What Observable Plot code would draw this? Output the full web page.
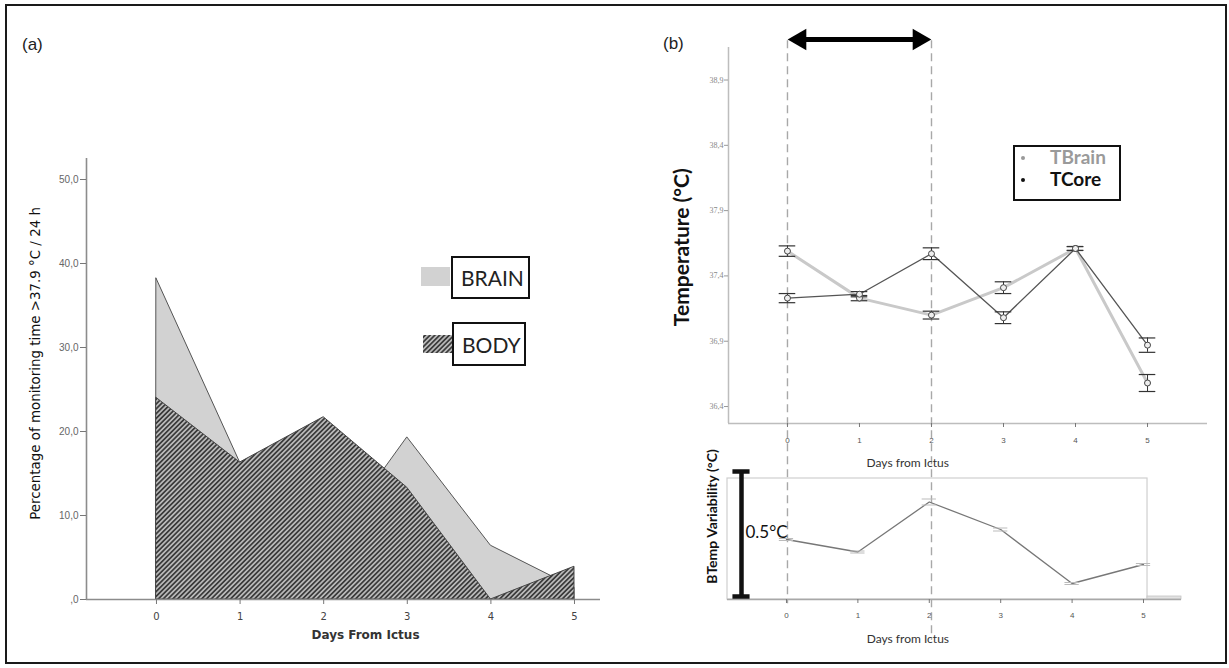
<!DOCTYPE html>
<html><head><meta charset="utf-8">
<script src="https://cdn.jsdelivr.net/npm/d3@7"></script>
<script src="https://cdn.jsdelivr.net/npm/@observablehq/plot@0.6"></script>
<style>
html,body{margin:0;padding:0;background:#fff;}
#fig{position:relative;width:1229px;height:668px;overflow:hidden;background:#fff;}
#fig > svg{position:absolute;left:0;top:0;}
.abs{position:absolute;box-sizing:border-box;}
.border{left:5px;top:4px;width:1222px;height:660px;border:2.5px solid #1a1a1a;}
.plab{font-family:"Liberation Sans",Arial,sans-serif;font-size:17px;color:#222;line-height:20px;}
.lbox{border:2px solid #111;background:#fff;font-family:Lato,sans-serif;color:#222;display:flex;align-items:center;padding-left:8px;}
.lb2{border:2px solid #111;background:#fff;font-family:Lato,sans-serif;font-weight:bold;}
</style></head>
<body>
<svg width="0" height="0" style="position:absolute">
  <defs>
    <pattern id="hatch" patternUnits="userSpaceOnUse" width="3.4" height="3.4" patternTransform="rotate(45)">
      <rect width="3.4" height="3.4" fill="#b8b8b8"></rect>
      <line x1="1.7" y1="0" x2="1.7" y2="3.4" stroke="#333" stroke-width="1.6"></line>
    </pattern>
  </defs>
</svg>
<div id="fig"></div>
<script>
// ---------- Panel (a) data ----------
const days = [0, 1, 2, 3, 4, 5];
const brainPct = [38.2, 16.3, 5.5, 19.3, 6.4, 1.4];
const bodyPct = [24.0, 16.3, 21.7, 13.3, 0.0, 3.9];
const pctTicks = [0, 10, 20, 30, 40, 50];
const pctLabel = "Percentage of monitoring time >37.9 °C / 24 h";
const daysLabelA = "Days From Ictus";
const legendA = ["BRAIN", "BODY"];

// ---------- Panel (b) upper data ----------
const tBrain = [37.59, 37.23, 37.10, 37.31, 37.61, 36.58];
const tBrainErr = [0.04, 0.02, 0.03, 0.045, 0.015, 0.065];
const tCore = [37.23, 37.26, 37.57, 37.08, 37.61, 36.87];
const tCoreErr = [0.035, 0.02, 0.045, 0.045, 0.015, 0.055];
const tempTicks = [36.4, 36.9, 37.4, 37.9, 38.4, 38.9];
const tempLabel = "Temperature (°C)";
const daysLabelB = "Days from Ictus";
const legendB = ["TBrain", "TCore"];
const windowDays = [0, 2];

// ---------- Panel (b) lower data ----------
const variability = [0.24, 0.19, 0.39, 0.28, 0.064, 0.14];
const variabilityErr = [0.004, 0.004, 0.012, 0.006, 0.004, 0.004];
const varLabel = "BTemp Variability (°C)";
const scaleBarValue = 0.5;

const fig = document.getElementById("fig");
const W = 1229, H = 668;
const baseStyle = {background: "transparent", overflow: "visible"};

// ================= Panel (a) =================
const xA = [-0.837, 5.311], yA = [0, 52.5];
const tableA = days.map((d, i) => ({day: d, brain: brainPct[i], body: bodyPct[i]}));
const plotA = Plot.plot({
  width: W, height: H,
  marginLeft: 86, marginRight: 629, marginTop: 158, marginBottom: 69,
  x: {domain: xA}, y: {domain: yA},
  style: {...baseStyle, fontFamily: "Liberation Sans, Arial, sans-serif"},
  marks: [
    Plot.areaY(tableA, {x: "day", y: "brain", fill: "#d2d2d2", stroke: "#555", strokeWidth: 1}),
    Plot.areaY(tableA, {x: "day", y: "body", fill: "url(#hatch)", stroke: "#444", strokeWidth: 1}),
    Plot.ruleX([xA[0]], {stroke: "#8c8c8c", strokeWidth: 1.6}),
    Plot.ruleY([0], {stroke: "#8c8c8c", strokeWidth: 1.6}),
    Plot.axisY({ticks: pctTicks, tickSize: 6, tickPadding: 2, stroke: "#777", fill: "#666", fontSize: 10,
      tickFormat: d => d === 0 ? ",0" : d.toFixed(1).replace(".", ","), label: null}),
    Plot.axisX({ticks: days, tickSize: 5, tickPadding: 8, stroke: "#777", fill: "#444", fontSize: 10,
      fontFamily: "DejaVu Sans", tickFormat: d => String(d), label: null}),
    Plot.text([{t: pctLabel, y: 28.1}], {text: "t", y: "y", frameAnchor: "left", textAnchor: "middle", dx: -51, rotate: -90,
      fontSize: 13.4, fill: "#111", fontFamily: "DejaVu Sans"}),
    Plot.text([{t: daysLabelA, x: 2.5}], {text: "t", x: "x", frameAnchor: "bottom", lineAnchor: "middle", dy: 36,
      fontSize: 12, fontWeight: "bold", fill: "#333", fontFamily: "DejaVu Sans"})
  ]
});
fig.appendChild(plotA);

// ================= Panel (b) upper =================
const xB = [-0.819, 5.833], yB = [36.27, 39.149];
const rowsB = [];
days.forEach((d, i) => {
  rowsB.push({day: d, series: legendB[0], value: tBrain[i], err: tBrainErr[i]});
  rowsB.push({day: d, series: legendB[1], value: tCore[i], err: tCoreErr[i]});
});
const brainRows = rowsB.filter(r => r.series === legendB[0]);
const coreRows = rowsB.filter(r => r.series === legendB[1]);
const arrowY = 39.21;
const windowRows = [{day: windowDays[0], top: 39.2, bottom: 34.89}, {day: windowDays[1], top: 39.2, bottom: 34.61}];
const capW = 0.115;
const plotB = Plot.plot({
  width: W, height: H,
  marginLeft: 728, marginRight: 22, marginTop: 47, marginBottom: 245,
  x: {domain: xB}, y: {domain: yB},
  style: baseStyle,
  marks: [
    Plot.ruleX(windowRows, {x: "day", y1: "top", y2: "bottom", stroke: "#a8a8a8", strokeWidth: 1.4, strokeDasharray: "8,5"}),
    Plot.ruleY([arrowY], {x1: windowDays[0] + 0.15, x2: windowDays[1] - 0.15, stroke: "#000", strokeWidth: 5}),
    Plot.dot([{day: windowDays[0], y: arrowY}], {x: "day", y: "y", symbol: "triangle", r: 8, rotate: -90, dx: 12.6, fill: "#000", stroke: "none"}),
    Plot.dot([{day: windowDays[1], y: arrowY}], {x: "day", y: "y", symbol: "triangle", r: 8, rotate: 90, dx: -12.6, fill: "#000", stroke: "none"}),
    Plot.ruleX([xB[0]], {stroke: "#bdbdbd", strokeWidth: 1.5}),
    Plot.ruleY([yB[0]], {stroke: "#bdbdbd", strokeWidth: 1.5}),
    Plot.line(brainRows, {x: "day", y: "value", stroke: "#c9c9c9", strokeWidth: 3}),
    Plot.line(coreRows, {x: "day", y: "value", stroke: "#555", strokeWidth: 1.3}),
    Plot.ruleX(rowsB, {x: "day", y1: d => d.value - d.err, y2: d => d.value + d.err, stroke: "#333", strokeWidth: 1}),
    Plot.ruleY(rowsB, {y: d => d.value - d.err, x1: d => d.day - capW, x2: d => d.day + capW, stroke: "#333", strokeWidth: 1.2}),
    Plot.ruleY(rowsB, {y: d => d.value + d.err, x1: d => d.day - capW, x2: d => d.day + capW, stroke: "#333", strokeWidth: 1.2}),
    Plot.dot(rowsB, {x: "day", y: "value", r: 3, stroke: "#444", fill: "#eee", strokeWidth: 1}),
    Plot.axisY({ticks: tempTicks, tickSize: 4, tickPadding: 1, stroke: "#999", fill: "#888", fontSize: 8,
      fontFamily: "Liberation Serif", tickFormat: d => d.toFixed(1).replace(".", ","), label: null}),
    Plot.axisX({ticks: days, tickSize: 4, tickPadding: 10, stroke: "#777", fill: "#555", fontSize: 8,
      fontFamily: "Liberation Sans", tickFormat: d => String(d), label: null}),
    Plot.text([{t: tempLabel, y: 37.62}], {text: "t", y: "y", frameAnchor: "left", textAnchor: "middle", dx: -46, rotate: -90,
      fontSize: 21, fontWeight: "bold", fill: "#111", fontFamily: "Lato"}),
    Plot.text([{t: daysLabelB, x: 1.67}], {text: "t", x: "x", frameAnchor: "bottom", lineAnchor: "middle", dy: 40,
      fontSize: 12, fill: "#333", fontFamily: "Lato"})
  ]
});
fig.appendChild(plotB);

// ================= Panel (b) lower =================
const xC = [-0.826, 5.532], yC = [0, 0.484];
const boxRight = 5.056;
const rowsC = days.map((d, i) => ({day: d, value: variability[i], err: variabilityErr[i]}));
const barX = -0.63, barLo = 0.012;
const plotC = Plot.plot({
  width: W, height: H,
  marginLeft: 727, marginRight: 48, marginTop: 478, marginBottom: 69,
  x: {domain: xC}, y: {domain: yC, axis: null},
  style: baseStyle,
  marks: [
    Plot.rect([{x1: xC[0], x2: boxRight, y1: yC[0], y2: yC[1]}], {x1: "x1", x2: "x2", y1: "y1", y2: "y2", fill: "none", stroke: "#cfcfcf", strokeWidth: 1.2}),
    Plot.rect([{x1: boxRight, x2: xC[1], y1: 0, y2: 0.012}], {x1: "x1", x2: "x2", y1: "y1", y2: "y2", fill: "#e2e2e2", stroke: "#c4c4c4", strokeWidth: 0.8}),
    Plot.ruleY([0], {stroke: "#a8a8a8", strokeWidth: 1.5}),
    Plot.line(rowsC, {x: "day", y: "value", stroke: "#777", strokeWidth: 1.3}),
    Plot.ruleY(rowsC, {y: d => d.value - d.err, x1: d => d.day - 0.1, x2: d => d.day + 0.1, stroke: "#bbb", strokeWidth: 1}),
    Plot.ruleY(rowsC, {y: d => d.value + d.err, x1: d => d.day - 0.1, x2: d => d.day + 0.1, stroke: "#bbb", strokeWidth: 1}),
    Plot.ruleX([{x: barX, y1: barLo, y2: barLo + scaleBarValue}], {x: "x", y1: "y1", y2: "y2", stroke: "#111", strokeWidth: 4.5}),
    Plot.ruleY([barLo, barLo + scaleBarValue], {x1: barX - 0.12, x2: barX + 0.12, stroke: "#111", strokeWidth: 4.5}),
    Plot.text([{t: scaleBarValue + "°C", x: barX + 0.055, y: 0.268}], {text: "t", x: "x", y: "y", textAnchor: "start",
      fontSize: 17, fill: "#111", fontFamily: "Lato"}),
    Plot.axisX({ticks: days, tickSize: 4, tickPadding: 9, stroke: "#777", fill: "#555", fontSize: 8,
      fontFamily: "Liberation Sans", tickFormat: d => String(d), label: null}),
    Plot.text([{t: varLabel, y: 0.332}], {text: "t", y: "y", frameAnchor: "left", textAnchor: "middle", dx: -15, rotate: -90,
      fontSize: 14, fontWeight: "bold", fill: "#111", fontFamily: "Lato"}),
    Plot.text([{t: daysLabelB, x: 1.7}], {text: "t", x: "x", frameAnchor: "bottom", lineAnchor: "middle", dy: 40,
      fontSize: 12, fill: "#333", fontFamily: "Lato"})
  ]
});
fig.appendChild(plotC);

// ================= HTML overlays: border, panel labels, legends =================
function addDiv(cls, style, html) {
  const el = document.createElement("div");
  el.className = "abs " + cls;
  Object.assign(el.style, style);
  el.innerHTML = html || "";
  fig.appendChild(el);
  return el;
}
addDiv("border", {});
addDiv("plab", {left: "22px", top: "35px"}, "(a)");
addDiv("plab", {left: "663px", top: "34px"}, "(b)");

// Legend (a)
addDiv("", {left: "421px", top: "267px", width: "29px", height: "19px", background: "#d2d2d2"});
addDiv("lbox", {left: "451px", top: "256px", width: "79px", height: "43px", fontSize: "21px"}, legendA[0]);
addDiv("", {left: "423px", top: "335px", width: "30px", height: "18px"},
  '<svg width="30" height="18"><rect width="30" height="18" fill="url(#hatch)"></rect></svg>');
addDiv("lbox", {left: "452px", top: "322px", width: "74px", height: "44px", fontSize: "21px"}, legendA[1]);

// Legend (b)
addDiv("lb2", {left: "1013px", top: "145px", width: "108px", height: "56px"});
addDiv("", {left: "1021px", top: "156px", width: "4px", height: "4px", borderRadius: "2px", background: "#999"});
addDiv("", {left: "1021px", top: "178px", width: "4px", height: "4px", borderRadius: "2px", background: "#111"});
addDiv("", {left: "1050px", top: "146px", fontFamily: "Lato", fontWeight: "bold", fontSize: "19px", lineHeight: "22px", color: "#9a9a9a"}, legendB[0]);
addDiv("", {left: "1050px", top: "168px", fontFamily: "Lato", fontWeight: "bold", fontSize: "19px", lineHeight: "22px", color: "#111"}, legendB[1]);
</script>
</body></html>
